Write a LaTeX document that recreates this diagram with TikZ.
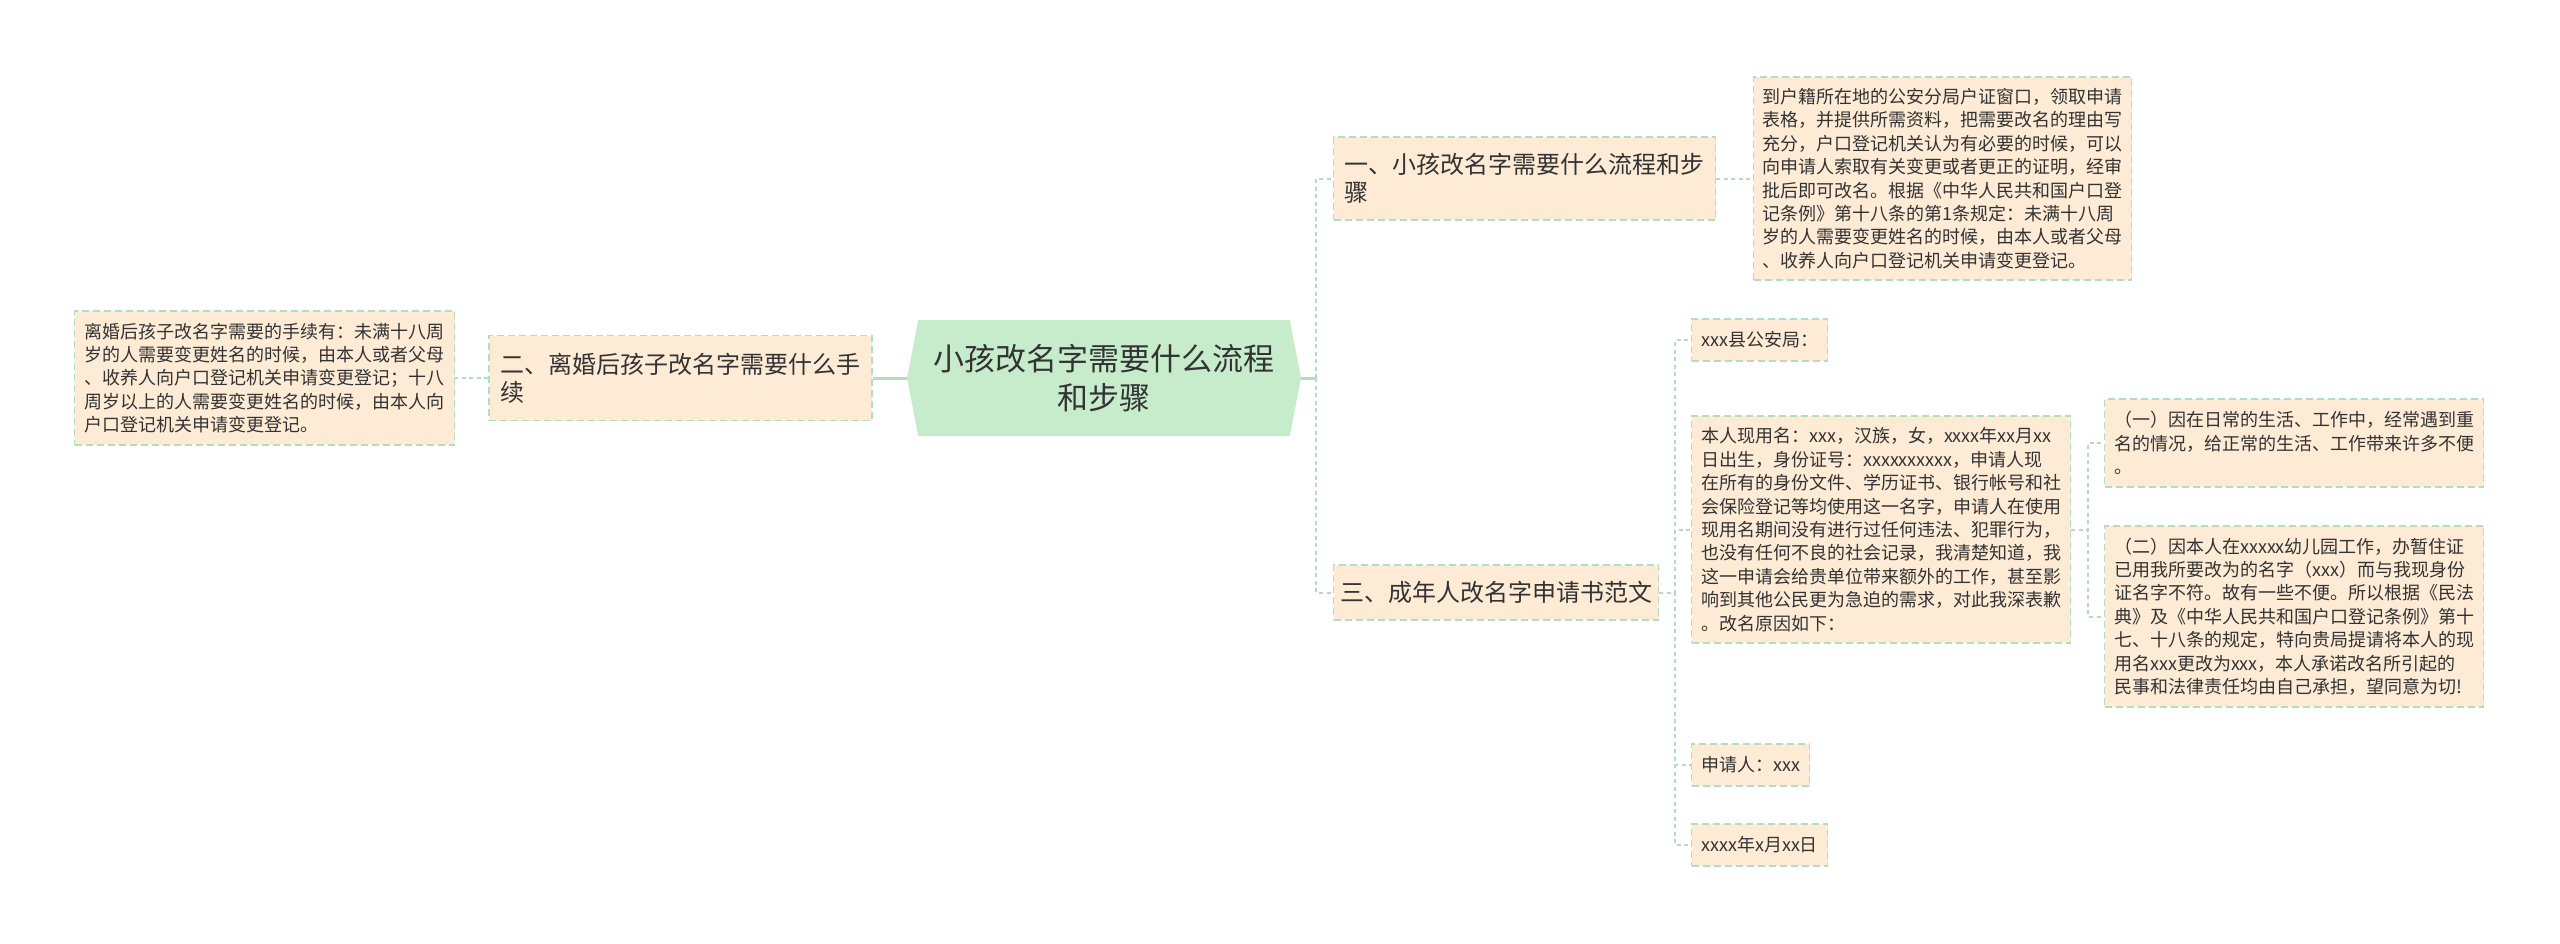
\documentclass[tikz,border=0pt]{standalone}
\usepackage{fontspec}
\newfontfamily\cjk{Noto Sans CJK SC}
\usetikzlibrary{positioning,shapes.symbols}
\definecolor{peach}{HTML}{FDEBD5}
\definecolor{mint}{HTML}{C7ECCB}
\definecolor{linegreen}{HTML}{B2DEBE}
\definecolor{ink}{HTML}{333333}

\begin{document}
\begin{tikzpicture}[
    x=0.5pt, y=-0.5pt,
    mainbox/.style={signal, signal to=east and west, signal pointer angle=158, fill=mint, align=center, minimum width=197pt, minimum height=58pt, inner sep=2pt, text=ink, font=\cjk\fontsize{15.5}{19.5}\selectfont},
    box/.style={draw=linegreen, line width=0.6pt, dash pattern=on 3.5pt off 2pt, fill=peach, align=left, inner sep=3pt, text=ink, font=\cjk\fontsize{12}{14}\selectfont},
    textbox/.style={draw=linegreen, line width=0.6pt, dash pattern=on 3.5pt off 2pt, fill=peach, align=left, inner sep=3pt, text=ink, font=\cjk\fontsize{9}{11.7}\selectfont},
    link/.style={draw=linegreen, line width=1pt, dash pattern=on 2pt off 1.75pt},
    rootlink/.style={draw=linegreen, line width=1.5pt}
  ]
    \fill[white] (0,0) rectangle (2560,943);
    \useasboundingbox (0,0) rectangle (2560,943);
    \node[mainbox] (root) at (1104,378) {小孩改名字需要什么流程\\和步骤};
    \node[box, left=17pt of root, minimum width=191.5pt, minimum height=42.5pt] (two) {二、离婚后孩子改名字需要什么手\\续};
    \node[textbox, left=16.5pt of two, minimum width=190pt, minimum height=67pt] (leaf2) {离婚后孩子改名字需要的手续有：未满十八周\\岁的人需要变更姓名的时候，由本人或者父母\\、收养人向户口登记机关申请变更登记；十八\\周岁以上的人需要变更姓名的时候，由本人向\\户口登记机关申请变更登记。};
    \node[box, anchor=west, minimum width=191pt, minimum height=41.5pt] (one) at (1333,178.5) {一、小孩改名字需要什么流程和步\\骤};
    \node[textbox, right=18.5pt of one, minimum width=189pt, minimum height=101.5pt] (leaf1) {到户籍所在地的公安分局户证窗口，领取申请\\表格，并提供所需资料，把需要改名的理由写\\充分，户口登记机关认为有必要的时候，可以\\向申请人索取有关变更或者更正的证明，经审\\批后即可改名。根据《中华人民共和国户口登\\记条例》第十八条的第1条规定：未满十八周\\岁的人需要变更姓名的时候，由本人或者父母\\、收养人向户口登记机关申请变更登记。};
    \node[box, anchor=west, minimum width=162.5pt, minimum height=27.5pt] (three) at (1333,592.5) {三、成年人改名字申请书范文};
    \node[textbox, anchor=west, minimum width=68pt, minimum height=21pt] (office) at (1691,340) {xxx县公安局：};
    \node[textbox, anchor=west, minimum width=189.5pt, minimum height=113.5pt] (letter) at (1691,529.5) {本人现用名：xxx，汉族，女，xxxx年xx月xx\\日出生，身份证号：xxxxxxxxxx，申请人现\\在所有的身份文件、学历证书、银行帐号和社\\会保险登记等均使用这一名字，申请人在使用\\现用名期间没有进行过任何违法、犯罪行为，\\也没有任何不良的社会记录，我清楚知道，我\\这一申请会给贵单位带来额外的工作，甚至影\\响到其他公民更为急迫的需求，对此我深表歉\\。改名原因如下：};
    \node[textbox, anchor=west, minimum width=59pt, minimum height=21pt] (sign) at (1691,765) {申请人：xxx};
    \node[textbox, anchor=west, minimum width=68pt, minimum height=21pt] (date) at (1691,845) {xxxx年x月xx日};
    \node[textbox, anchor=west, minimum width=189.5pt, minimum height=44pt] (reason1) at (2104,443) {（一）因在日常的生活、工作中，经常遇到重\\名的情况，给正常的生活、工作带来许多不便\\。};
    \node[textbox, anchor=west, minimum width=189.5pt, minimum height=90.5pt] (reason2) at (2104,616.5) {（二）因本人在xxxxx幼儿园工作，办暂住证\\已用我所要改为的名字（xxx）而与我现身份\\证名字不符。故有一些不便。所以根据《民法\\典》及《中华人民共和国户口登记条例》第十\\七、十八条的规定，特向贵局提请将本人的现\\用名xxx更改为xxx，本人承诺改名所引起的\\民事和法律责任均由自己承担，望同意为切!};
    \coordinate (j1) at ([xshift=7.5pt]root.east);
    \coordinate (j2) at ([xshift=8pt]three.east);
    \coordinate (j3) at ([xshift=8.5pt]letter.east);
    \draw[rootlink] (root.east) -- (j1);
    \draw[link] (j1) |- (one.west);
    \draw[link] (j1) |- (three.west);
    \draw[rootlink] (root.west) -- (two.east);
    \draw[link] (two.west) -- (leaf2.east);
    \draw[link] (one.east) -- (leaf1.west);
    \draw[link] (three.east) -- (j2) |- (office.west);
    \draw[link] (three.east) -- (j2) |- (letter.west);
    \draw[link] (three.east) -- (j2) |- (sign.west);
    \draw[link] (three.east) -- (j2) |- (date.west);
    \draw[link] (letter.east) -- (j3) |- (reason1.west);
    \draw[link] (letter.east) -- (j3) |- (reason2.west);
  \end{tikzpicture}
\end{document}
